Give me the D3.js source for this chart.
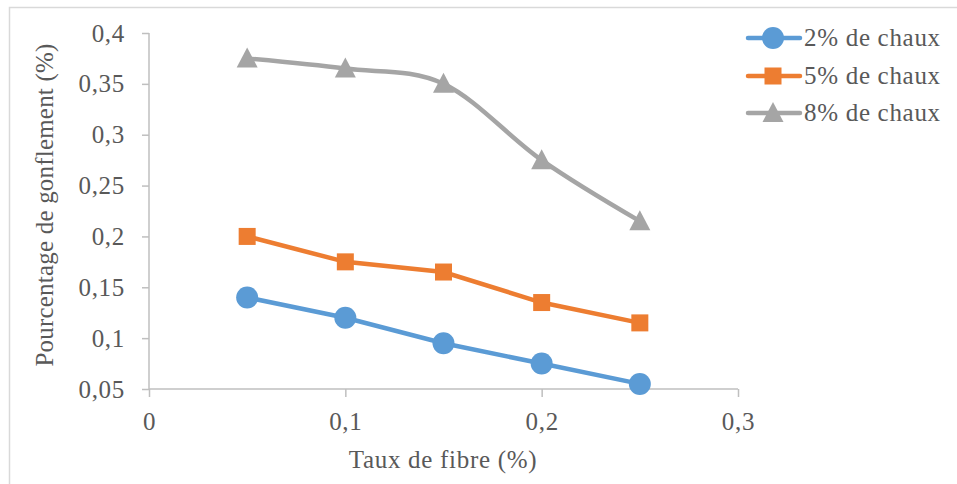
<!DOCTYPE html>
<html><head><meta charset="utf-8">
<script src="https://cdn.jsdelivr.net/npm/d3@7"></script>
<style>
body{margin:0;background:#fff}svg{display:block}
svg text{font-family:"Liberation Serif","Times New Roman",Times,serif;font-size:25px;fill:#595959;letter-spacing:0.7px}
svg text.ytitle{letter-spacing:0.2px}
</style>
</head><body>
<script>
const xValues = [0.05, 0.1, 0.15, 0.2, 0.25];
const chaux2 = [0.14, 0.12, 0.095, 0.075, 0.055];
const chaux5 = [0.2, 0.175, 0.165, 0.135, 0.115];
const chaux8 = [0.375, 0.365, 0.35, 0.275, 0.215];
const seriesNames = ["2% de chaux", "5% de chaux", "8% de chaux"];
const xTicks = [0, 0.1, 0.2, 0.3];
const yTicks = [0.05, 0.1, 0.15, 0.2, 0.25, 0.3, 0.35, 0.4];
const xTitle = "Taux de fibre (%)";
const yTitle = "Pourcentage de gonflement (%)";

const W = 957, H = 484;
const svg = d3.select("body").append("svg").attr("width", W).attr("height", H);
const fontFam = "Liberation Serif, Times New Roman, serif";
const fs = 25;
const textCol = "#595959", axisCol = "#bfbfbf";

svg.append("rect").attr("x", 9.5).attr("y", 7.5).attr("width", 960).attr("height", 490)
  .attr("fill", "none").attr("stroke", "#d9d9d9").attr("stroke-width", 1.5);

const x = d3.scaleLinear().domain([0, 0.3]).range([149, 738]);
const y = d3.scaleLinear().domain([0.05, 0.4]).range([389, 33]);
const fmt = d => String(+d.toFixed(2)).replace(".", ",");

const gx = svg.append("g").attr("transform", "translate(0,389)")
  .call(d3.axisBottom(x).tickValues(xTicks).tickSize(8).tickPadding(15).tickFormat(fmt));
const gy = svg.append("g").attr("transform", "translate(149,0)")
  .call(d3.axisLeft(y).tickValues(yTicks).tickSize(7).tickPadding(17).tickFormat(fmt));
[gx, gy].forEach(g => {
  g.attr("font-family", fontFam).attr("font-size", fs);
  g.selectAll("path,line").attr("stroke", axisCol).attr("stroke-width", 1.5);
  g.selectAll("text").attr("fill", textCol).attr("font-family", fontFam).attr("font-size", fs);
});
gy.select(".domain").attr("d", "M0,389V33");
gx.select(".domain").attr("d", "M149,0H738");

svg.append("text").attr("x", 443).attr("y", 468).attr("text-anchor", "middle")
  .attr("fill", textCol).attr("font-family", fontFam).attr("font-size", fs).text(xTitle);
svg.append("text").attr("class", "ytitle").attr("transform", "translate(53,205) rotate(-90)").attr("text-anchor", "middle")
  .attr("fill", textCol).attr("font-family", fontFam).attr("font-size", fs).text(yTitle);

const colors = ["#5b9bd5", "#ed7d31", "#a5a5a5"];
const data = [chaux2, chaux5, chaux8];
const curves = [d3.curveLinear, d3.curveLinear, d3.curveCardinal.tension(0)];

function marker(g, i, cx, cy) {
  if (i === 0) g.append("circle").attr("cx", cx).attr("cy", cy).attr("r", 11).attr("fill", colors[0]);
  else if (i === 1) g.append("rect").attr("x", cx - 8.5).attr("y", cy - 8.5).attr("width", 17).attr("height", 17).attr("fill", colors[1]);
  else g.append("path").attr("d", `M${cx},${cy-11}L${cx+10.5},${cy+9}L${cx-10.5},${cy+9}Z`).attr("fill", colors[2]);
}

data.forEach((vals, i) => {
  const pts = vals.map((v, j) => [x(xValues[j]), y(v)]);
  const g = svg.append("g");
  g.append("path").attr("d", d3.line().curve(curves[i])(pts)).attr("fill", "none")
    .attr("stroke", colors[i]).attr("stroke-width", 4.5).attr("stroke-linecap", "round");
  pts.forEach(p => marker(g, i, p[0], p[1]));
});

const ly = [38, 76, 113];
seriesNames.forEach((n, i) => {
  const g = svg.append("g");
  g.append("line").attr("x1", 748).attr("x2", 800).attr("y1", ly[i]).attr("y2", ly[i])
    .attr("stroke", colors[i]).attr("stroke-width", 4.5).attr("stroke-linecap", "round");
  marker(g, i, 773, ly[i]);
  g.append("text").attr("x", 804).attr("y", ly[i] + 8).attr("fill", textCol)
    .attr("font-family", fontFam).attr("font-size", fs).text(n);
});
</script>
</body></html>
